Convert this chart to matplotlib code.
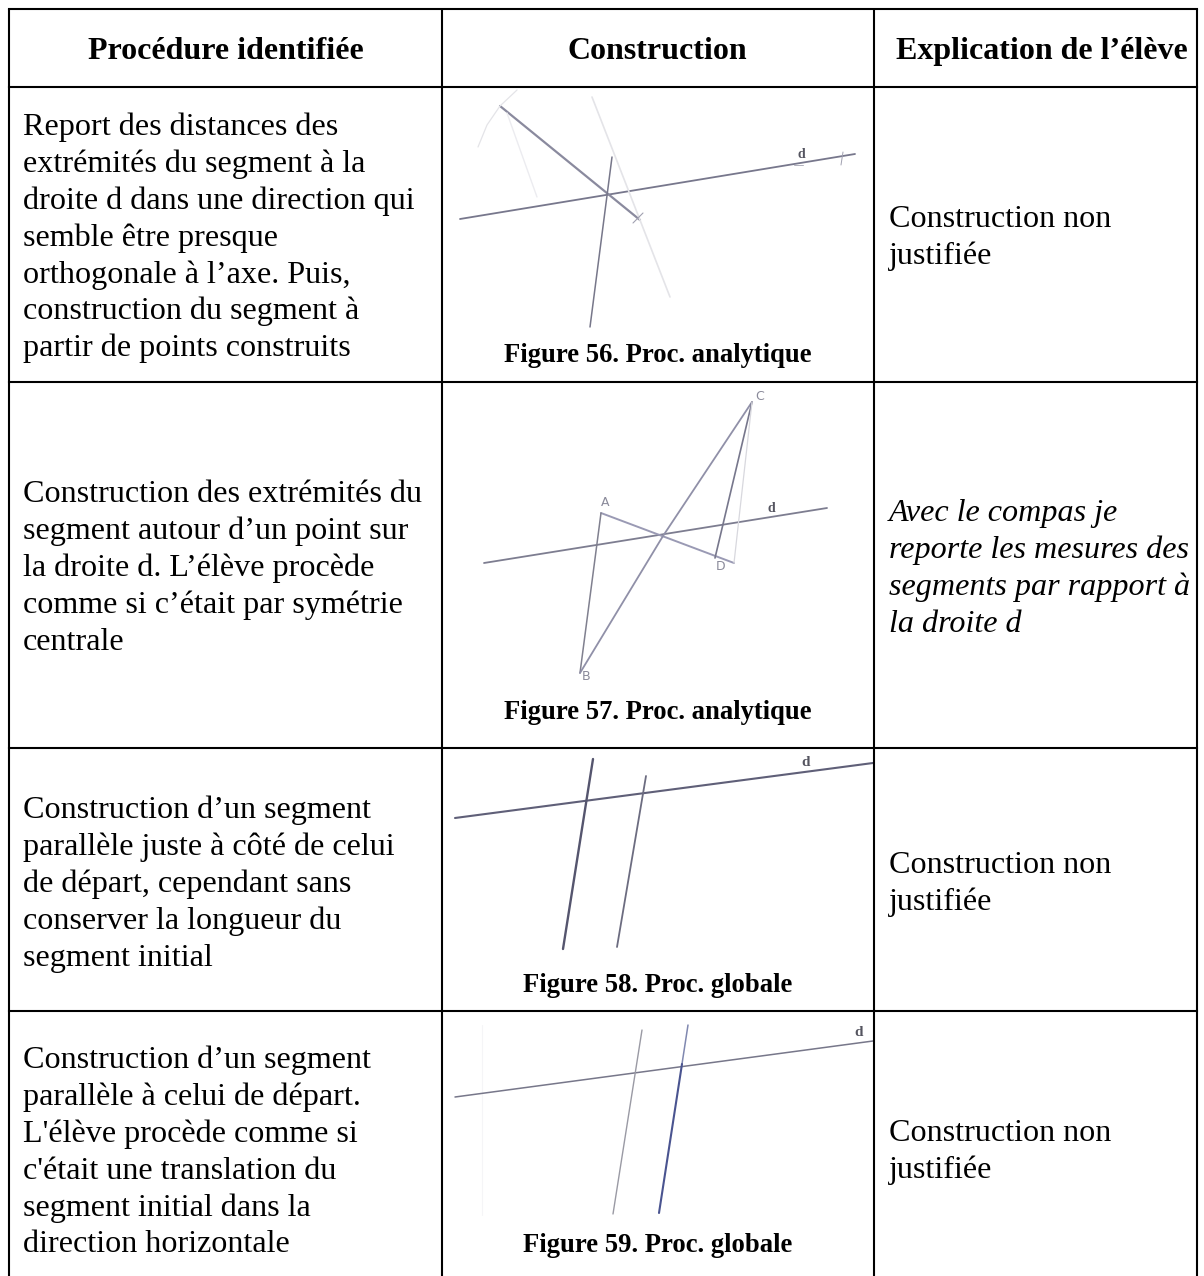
import matplotlib
matplotlib.use("Agg")
import matplotlib.pyplot as plt

W, H = 1204, 1276
plt.rcParams['font.family'] = ['Liberation Serif', 'DejaVu Serif']

col_x = [9, 441.5, 874, 1197]
row_y = [9, 87, 382, 747.5, 1011, 1276]

headers = ["Procédure identifiée", "Construction", "Explication de l’élève"]
header_x = [225.5, 657, 1042]

proc_text = [
    ["Report des distances des", "extrémités du segment à la", "droite d dans une direction qui",
     "semble être presque", "orthogonale à l’axe. Puis,", "construction du segment à", "partir de points construits"],
    ["Construction des extrémités du", "segment autour d’un point sur", "la droite d. L’élève procède",
     "comme si c’était par symétrie", "centrale"],
    ["Construction d’un segment", "parallèle juste à côté de celui", "de départ, cependant sans",
     "conserver la longueur du", "segment initial"],
    ["Construction d’un segment", "parallèle à celui de départ.", "L'élève procède comme si",
     "c'était une translation du", "segment initial dans la", "direction horizontale"],
]
proc_base = [135, 502, 818, 1068]

expl_text = [
    ["Construction non", "justifiée"],
    ["Avec le compas je", "reporte les mesures des", "segments par rapport à", "la droite d"],
    ["Construction non", "justifiée"],
    ["Construction non", "justifiée"],
]
expl_base = [227, 521, 873, 1141]
expl_italic = [False, True, False, False]

captions = ["Figure 56. Proc. analytique", "Figure 57. Proc. analytique",
            "Figure 58. Proc. globale", "Figure 59. Proc. globale"]
caption_base = [362, 719, 992, 1252]

# sketch strokes: xs, ys, colour, width
strokes = [
    # figure 56
    ([460, 855], [219, 154], '#77778c', 1.3),
    ([500, 640], [106, 220], '#8a8a9e', 1.6),
    ([612, 590], [157, 327], '#77778a', 1.1),
    ([592, 670], [97, 297], '#e4e4e8', 1.2),
    ([507, 537], [113, 197], '#ececf0', 1.0),
    ([478, 487, 500, 517], [147, 125, 106, 90], '#e4e4e8', 0.9),
    ([633, 643], [223, 213], '#a0a0b0', 0.8),
    ([794, 803], [165, 165], '#b0b0bc', 0.7),
    ([843, 841], [152, 165], '#a0a0b0', 0.7),
    # figure 57
    ([484, 827], [563, 508], '#7d7d90', 1.3),
    ([601, 734], [513, 563], '#9a9ab4', 1.4),
    ([601, 580], [513, 673], '#80808f', 1.1),
    ([580, 663, 752], [673, 536, 402], '#9090a8', 1.3),
    ([752, 715], [402, 558], '#77778c', 1.2),
    ([752, 734], [402, 563], '#d8d8de', 0.9),
    # figure 58
    ([455, 873], [818, 763], '#5f5f78', 1.5),
    ([593, 563], [759, 949], '#55556e', 1.7),
    ([646, 617], [776, 947], '#6c6c80', 1.3),
    # figure 59
    ([482, 482], [1025, 1215], '#f5f5f7', 0.8),
    ([455, 873], [1097, 1041], '#77778a', 1.1),
    ([642, 613], [1030, 1214], '#9a9aa4', 1.0),
    ([688, 682], [1025, 1064], '#8088b0', 1.1),
    ([682, 659], [1064, 1213], '#4a5490', 1.5),
]

# sketch labels: x, y, text, colour, size
sketch_labels = [
    (801, 155, "d", '#555560', 10),
    (771, 509, "d", '#555560', 10),
    (806, 763, "d", '#555560', 11),
    (859, 1033, "d", '#555560', 11),
]
point_labels = [
    (605, 502, "A"), (586, 677, "B"), (760, 397, "C"), (721, 567, "D"),
]

fig = plt.figure(figsize=(W / 100, H / 100), dpi=100)
ax = fig.add_axes([0, 0, 1, 1])
ax.set_xlim(0, W)
ax.set_ylim(H, 0)
ax.axis('off')

for xs, ys, c, w in strokes:
    ax.plot(xs, ys, color=c, lw=w, solid_capstyle='round', solid_joinstyle='round')

for x, y, s, c, fs in sketch_labels:
    ax.text(x, y, s, color=c, fontsize=fs, ha='center', va='center', fontweight='bold')
for x, y, s in point_labels:
    ax.text(x, y, s, color='#8a8a9a', fontsize=9, ha='center', va='center', family=['DejaVu Sans'])

for x in col_x:
    ax.plot([x, x], [row_y[0], row_y[-1]], color='black', lw=1.5, solid_capstyle='butt')
for y in row_y[:-1]:
    ax.plot([col_x[0], col_x[-1]], [y, y], color='black', lw=1.5, solid_capstyle='projecting')

for x, s in zip(header_x, headers):
    ax.text(x, 59, s, fontsize=23, fontweight='bold', ha='center', va='baseline', color='black')

line_h = 36.9
for lines, top in zip(proc_text, proc_base):
    for i, s in enumerate(lines):
        ax.text(23, top + i * line_h, s, fontsize=23.1, ha='left', va='baseline', color='black')

for lines, top, it in zip(expl_text, expl_base, expl_italic):
    for i, s in enumerate(lines):
        ax.text(889, top + i * line_h, s, fontsize=23.1, ha='left', va='baseline', color='black',
                style='italic' if it else 'normal')

for s, y in zip(captions, caption_base):
    ax.text(658, y, s, fontsize=19.2, fontweight='bold', ha='center', va='baseline', color='black')

fig.savefig('out.png', dpi=100, facecolor='white')
